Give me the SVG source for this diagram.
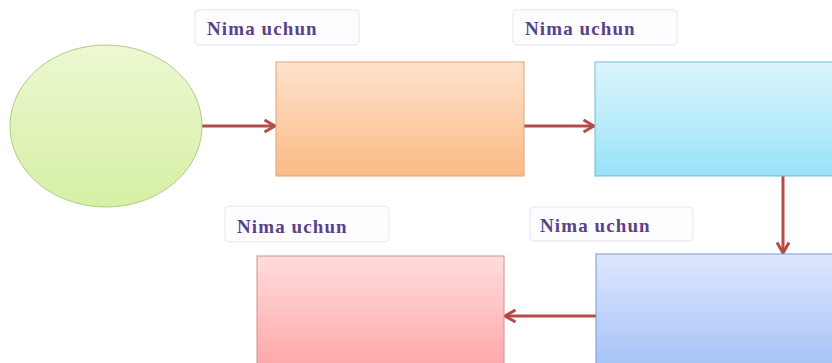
<svg xmlns="http://www.w3.org/2000/svg" width="832" height="363" viewBox="0 0 832 363">
<style>
.lbl{fill:#fdfcff;stroke:#e6e4ee;stroke-width:1}
.txt{font-family:"Liberation Serif",serif;font-weight:bold;font-size:19px;letter-spacing:1.1px;fill:#5b4288}
.con{stroke:#b44a4a;stroke-width:3;fill:none}
</style>
<defs>
<linearGradient id="gGreen" x1="0" y1="0" x2="0" y2="1"><stop offset="0" stop-color="#ecf8d2"/><stop offset="1" stop-color="#d6f0a4"/></linearGradient>
<linearGradient id="gOrange" x1="0" y1="0" x2="0" y2="1"><stop offset="0" stop-color="#fde2cc"/><stop offset="1" stop-color="#fbbb86"/></linearGradient>
<linearGradient id="gCyan" x1="0" y1="0" x2="0" y2="1"><stop offset="0" stop-color="#dcf5fd"/><stop offset="1" stop-color="#98e2f8"/></linearGradient>
<linearGradient id="gBlue" x1="0" y1="0" x2="0" y2="1"><stop offset="0" stop-color="#dde7fd"/><stop offset="1" stop-color="#a6c2f8"/></linearGradient>
<linearGradient id="gPink" x1="0" y1="0" x2="0" y2="1"><stop offset="0" stop-color="#ffdcdc"/><stop offset="1" stop-color="#ffa6a6"/></linearGradient>
<marker id="arr" viewBox="0 0 10 10" refX="9" refY="5" markerWidth="5" markerHeight="5" orient="auto" markerUnits="strokeWidth">
<polyline points="2,1 9,5 2,9" fill="none" stroke="#b44a4a" stroke-width="2"/>
</marker>
</defs>
<rect width="832" height="363" fill="#ffffff"/>
<g id="connectors">
<line class="con" x1="202" y1="126" x2="275" y2="126" marker-end="url(#arr)"/>
<line class="con" x1="524" y1="126" x2="594" y2="126" marker-end="url(#arr)"/>
<line class="con" x1="783" y1="176" x2="783" y2="253" marker-end="url(#arr)"/>
<line class="con" x1="596" y1="316" x2="505" y2="316" marker-end="url(#arr)"/>
</g>
<g id="start"><ellipse cx="106" cy="126" rx="96" ry="81" fill="url(#gGreen)" stroke="#b0cc84" stroke-width="1"/></g>
<g id="box1"><rect x="276" y="62" width="248" height="114" fill="url(#gOrange)" stroke="#e0a478" stroke-width="1"/></g>
<g id="box2"><rect x="595" y="62" width="245" height="114" fill="url(#gCyan)" stroke="#74bcd4" stroke-width="1"/></g>
<g id="box3"><rect x="596" y="254" width="245" height="115" fill="url(#gBlue)" stroke="#7c98cc" stroke-width="1"/></g>
<g id="box4"><rect x="257" y="256" width="247" height="115" fill="url(#gPink)" stroke="#d49090" stroke-width="1"/></g>
<g id="label1"><rect class="lbl" x="195" y="10" width="164" height="35" rx="4"/><text class="txt" x="207" y="35">Nima uchun</text></g>
<g id="label2"><rect class="lbl" x="513" y="10" width="164" height="35" rx="4"/><text class="txt" x="525" y="35">Nima uchun</text></g>
<g id="label3"><rect class="lbl" x="530" y="207" width="163" height="34" rx="4"/><text class="txt" x="540" y="232">Nima uchun</text></g>
<g id="label4"><rect class="lbl" x="225" y="206" width="164" height="36" rx="4"/><text class="txt" x="237" y="233">Nima uchun</text></g>
</svg>
